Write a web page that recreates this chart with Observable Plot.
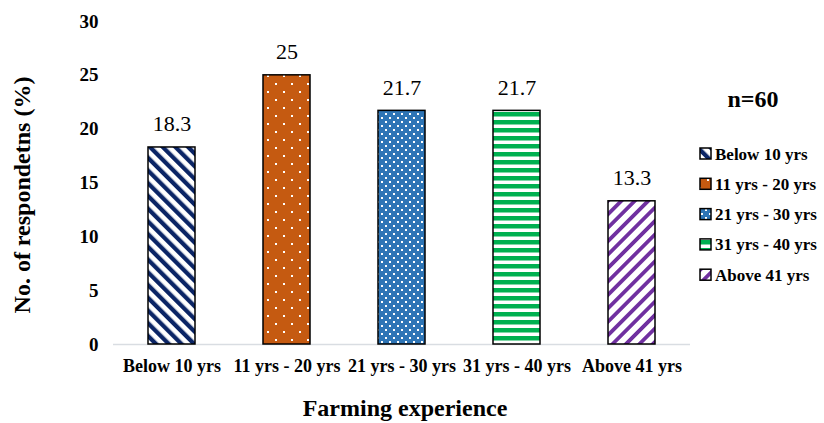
<!DOCTYPE html>
<html><head><meta charset="utf-8">
<script src="https://cdn.jsdelivr.net/npm/d3@7"></script>
<script src="https://cdn.jsdelivr.net/npm/@observablehq/plot@0.6"></script>
<style>
body{margin:0;background:#fff}
#chart{position:relative;width:824px;height:423px}
#chart svg [aria-label="y-axis tick label"]{font-weight:bold;font-size:19px}
#chart svg [aria-label="x-axis tick label"]{font-weight:bold;font-size:18px}
</style>
</head><body>
<svg width="0" height="0" style="position:absolute">
<defs>
<pattern id="p0" patternUnits="userSpaceOnUse" width="9" height="9" patternTransform="rotate(-45)">
<rect width="9" height="9" fill="#fff"/><rect width="4.3" height="9" fill="#0b2566"/></pattern>
<pattern id="p1" patternUnits="userSpaceOnUse" width="16" height="16">
<rect width="16" height="16" fill="#c55a11"/><rect x="3" y="3" width="2" height="2" fill="#fff"/><rect x="11" y="11" width="2" height="2" fill="#fff"/></pattern>
<pattern id="p2" patternUnits="userSpaceOnUse" width="8" height="8">
<rect width="8" height="8" fill="#2e75b6"/><rect x="1" y="1" width="2" height="2" fill="#fff"/><rect x="5" y="5" width="2" height="2" fill="#fff"/></pattern>
<pattern id="p3" patternUnits="userSpaceOnUse" width="8" height="8">
<rect width="8" height="8" fill="#fff"/><rect y="0" width="8" height="4.5" fill="#00b050"/></pattern>
<pattern id="p4" patternUnits="userSpaceOnUse" width="9.5" height="9.5" patternTransform="rotate(45)">
<rect width="9.5" height="9.5" fill="#fff"/><rect width="3.8" height="9.5" fill="#7030a0"/></pattern>
</defs></svg>
<div id="chart"></div>
<script>
const categories = ["Below 10 yrs", "11 yrs - 20 yrs", "21 yrs - 30 yrs", "31 yrs - 40 yrs", "Above 41 yrs"];
const values = [18.3, 25, 21.7, 21.7, 13.3];
const valueLabels = ["18.3", "25", "21.7", "21.7", "13.3"];
const yTicks = [0, 5, 10, 15, 20, 25, 30];
const patternIds = ["p0", "p1", "p2", "p3", "p4"];
const xTitle = "Farming experience";
const yTitle = "No. of respondetns (%)";
const legendTitle = "n=60";

const data = categories.map((c, i) => ({cat: c, value: values[i], label: valueLabels[i], fill: `url(#${patternIds[i]})`}));

const plot = Plot.plot({
  width: 824, height: 423,
  marginLeft: 113, marginRight: 134, marginTop: 21, marginBottom: 79,
  style: {fontFamily: "'Liberation Serif', 'Times New Roman', serif", background: "white", color: "black"},
  x: {domain: categories, paddingInner: 0.59, paddingOuter: 0.295, label: null},
  y: {domain: [0, 30], label: null},
  color: {type: "identity"},
  marks: [
    Plot.axisY({ticks: yTicks, tickSize: 0, tickPadding: 15, fontSize: 19, label: null}),
    Plot.axisX({tickSize: 0, tickPadding: 15, fontSize: 18, label: null}),
    Plot.ruleY([0], {stroke: "#d9dde2", strokeWidth: 1.5}),
    Plot.barY(data, {x: "cat", y: "value", fill: "fill", stroke: "black", strokeWidth: 1.5}),
    Plot.text(data, {x: "cat", y: "value", text: "label", dy: -16, lineAnchor: "bottom", fontSize: 22})
  ]
});
document.getElementById("chart").appendChild(plot);

const svg = d3.select(plot);
const ff = "'Liberation Serif', 'Times New Roman', serif";
svg.append("text").attr("transform", "translate(22,195) rotate(-90)")
  .attr("text-anchor", "middle").attr("dominant-baseline", "central")
  .attr("font-family", ff).attr("font-weight", "bold").attr("font-size", 24).text(yTitle);
svg.append("text").attr("x", 405).attr("y", 416).attr("text-anchor", "middle")
  .attr("font-family", ff).attr("font-weight", "bold").attr("font-size", 24).text(xTitle);
svg.append("text").attr("x", 753).attr("y", 107).attr("text-anchor", "middle")
  .attr("font-family", ff).attr("font-weight", "bold").attr("font-size", 24).text(legendTitle);
const lg = svg.append("g");
categories.forEach((c, i) => {
  const cy = 154 + i * 30.3;
  lg.append("rect").attr("x", 700).attr("y", cy - 6).attr("width", 11).attr("height", 11)
    .attr("fill", `url(#${patternIds[i]})`).attr("stroke", "black").attr("stroke-width", 1.5);
  lg.append("text").attr("x", 715).attr("y", cy).attr("text-anchor", "start").attr("dominant-baseline", "central")
    .attr("font-family", ff).attr("font-weight", "bold").attr("font-size", 17).text(c);
});
</script>
</body></html>
